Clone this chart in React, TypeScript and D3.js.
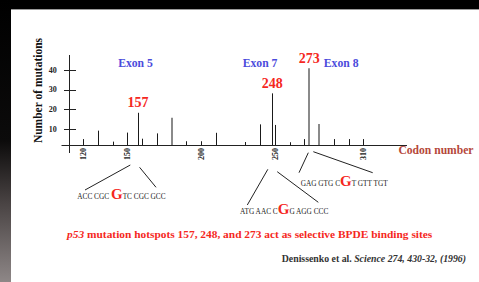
import React from "react";
import * as d3 from "d3";

// codons with recorded mutations and their counts
const codons = [120, 130, 140, 150, 157, 160, 170, 180, 190, 200, 210, 230, 240, 248, 250, 260, 270, 273, 280, 290, 300, 310];
const counts = [4.8, 9.1, 3.5, 8.1, 18.2, 5, 7.7, 15.7, 3.7, 3.7, 8, 3.3, 12.3, 28.1, 12, 3.2, 4.8, 40.9, 12.5, 4.8, 4.8, 4.8];
// bars drawn in gray in the original (exon 8 block + codon 180)
const grayCodons = [180, 273, 280];

const yTicks = [10, 20, 30, 40];
const xTicks = [120, 150, 200, 250, 310];

const exonNames = ["Exon 5", "Exon 7", "Exon 8"];
const exonCenters = [155.6, 240, 295];

const hotspots = [157, 248, 273];
const seqBefore = ["ACC CGC ", "ATG AAC C", "GAG GTG C"];
const seqAfter = ["TC CGC GCC", "G AGG CCC", "T GTT TGT"];

const W = 479;
const H = 282;
const serif = "'Liberation Serif', 'Times New Roman', serif";

const App = () => {
  const x = d3.scaleLinear().domain([120, 310]).range([83, 363.3]);
  const y = d3.scaleLinear().domain([0, 40]).range([148.5, 70]);
  const base = 145.5;

  // where the sequence text sits and how the connectors fan out (layout only)
  const seqLayout = [
    { tx: 77.3, ty: 199.3, l: [-7.3, 165, 85, 190], r: [2, 167.3, 156, 187.3] },
    { tx: 240, ty: 214, l: [-4, 169.3, 247.3, 205], r: [5.4, 171.7, 318.3, 202.3] },
    { tx: 300.7, ty: 185.7, l: [-0.4, 152.7, 299, 172.7], r: [4.6, 151.7, 372.7, 172.7] },
  ];

  return (
    <svg width={W} height={H} style={{ position: "fixed", left: 0, top: 0 }} fontFamily={serif}>
      <defs>
        <linearGradient id="side" x1="0" y1="0" x2="0" y2="1">
          <stop offset="0" stopColor="#000" />
          <stop offset="0.5" stopColor="#0c0b0b" />
          <stop offset="0.72" stopColor="#494343" />
          <stop offset="1" stopColor="#8e8787" />
        </linearGradient>
      </defs>
      <rect width={W} height={H} fill="#000" />
      <rect x={0} y={0} width={11} height={H} fill="url(#side)" />
      <rect x={11} y={9} width={W - 11} height={H - 9} fill="#fff" />
      <line x1={11} x2={W} y1={9.5} y2={9.5} stroke="#9a9a9a" />

      {/* axes */}
      <g stroke="#222" strokeWidth={1}>
        <line x1={69.5} x2={69.5} y1={55} y2={153} />
        <line x1={61.5} x2={407} y1={base} y2={base} />
        {yTicks.map(t => (
          <line key={t} x1={64} x2={76} y1={Math.round(y(t)) + 0.5} y2={Math.round(y(t)) + 0.5} />
        ))}
      </g>
      <g fontSize={8} fontWeight="bold" fill="#222">
        {yTicks.map(t => (
          <text key={t} x={56.8} y={y(t) + 2.7} textAnchor="end">{t}</text>
        ))}
        {xTicks.map(t => (
          <text key={t} transform={`translate(${x(t) + 2.8},148) rotate(-90)`} textAnchor="end">{t}</text>
        ))}
      </g>
      <text transform="translate(41.5,90.5) rotate(-90)" textAnchor="middle" fontSize={11.5} fontWeight="bold" fill="#111">
        Number of mutations
      </text>
      <text x={473.5} y={154} textAnchor="end" fontSize={11.6} fontWeight="bold" fill="#b5473a">
        Codon number
      </text>

      {/* bars */}
      {codons.map((c, i) => {
        const gray = grayCodons.includes(c);
        const cx = gray ? Math.round(x(c)) : Math.round(x(c)) + 0.5;
        return (
          <line key={c} x1={cx} x2={cx} y1={base - 0.5} y2={y(counts[i])}
            stroke={gray ? "#8a8a8a" : "#1a1a1a"} strokeWidth={gray ? 2 : 1} />
        );
      })}

      {/* exon labels */}
      {exonNames.map((n, i) => (
        <text key={n} x={x(exonCenters[i])} y={66.7} textAnchor="middle" fontSize={11.7} fontWeight="bold" fill="#4b4bdc">
          {n}
        </text>
      ))}

      {/* hotspot labels */}
      {hotspots.map(h => (
        <text key={h} x={x(h) + 0.5} y={y(counts[codons.indexOf(h)]) - 5.5} textAnchor="middle"
          fontSize={14} fontWeight="bold" fill="#f5281e">
          {h}
        </text>
      ))}

      {/* sequences around each hotspot */}
      {hotspots.map((h, i) => {
        const s = seqLayout[i];
        const hx = x(h);
        return (
          <g key={h}>
            <g stroke="#222" strokeWidth={1}>
              <line x1={hx + s.l[0]} y1={s.l[1]} x2={s.l[2]} y2={s.l[3]} />
              <line x1={hx + s.r[0]} y1={s.r[1]} x2={s.r[2]} y2={s.r[3]} />
            </g>
            <text x={s.tx} y={s.ty} fontSize={7.3} fill="#222">
              {seqBefore[i]}
              <tspan fontSize={15} fontWeight="bold" fill="#f5281e">G</tspan>
              {seqAfter[i]}
            </text>
          </g>
        );
      })}

      <text x={249.7} y={238.3} textAnchor="middle" fontSize={11.4} fontWeight="bold" fill="#f5281e">
        <tspan fontStyle="italic">p53</tspan> mutation hotspots 157, 248, and 273 act as selective BPDE binding sites
      </text>
      <text x={466} y={262.3} textAnchor="end" fontSize={9.8} fontWeight="bold" fill="#333">
        Denissenko et al. <tspan fontStyle="italic">Science  274, 430-32, (1996)</tspan>
      </text>
    </svg>
  );
};

export default App;
